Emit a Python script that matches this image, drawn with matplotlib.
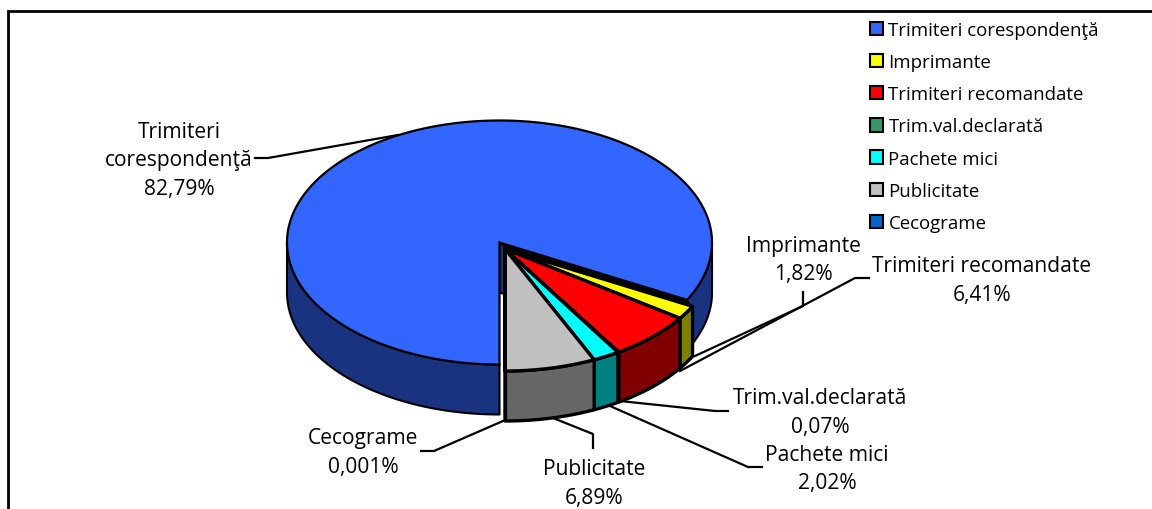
import numpy as np
import matplotlib
matplotlib.use("Agg")
import matplotlib.pyplot as plt
from matplotlib.patches import Polygon, Patch

categories = ["Trimiteri corespondenţă", "Imprimante", "Trimiteri recomandate",
              "Trim.val.declarată", "Pachete mici", "Publicitate", "Cecograme"]
values = [82.79, 1.82, 6.41, 0.07, 2.02, 6.89, 0.001]
value_labels = ["82,79%", "1,82%", "6,41%", "0,07%", "2,02%", "6,89%", "0,001%"]
top_colors = ["#3366FF", "#FFFF00", "#FF0000", "#339966", "#00FFFF", "#C0C0C0", "#0066CC"]
side_colors = ["#1A3380", "#808000", "#800000", "#1A4D33", "#008080", "#666666", "#003366"]

plt.rcParams["font.family"] = ["Open Sans", "DejaVu Sans"]
fig = plt.figure(figsize=(11.52, 5.10), dpi=100)
ax = fig.add_axes([0, 0, 1, 1])
ax.set_xlim(0, 1152)
ax.set_ylim(510, 0)
ax.axis("off")

# chart frame (open on the right and bottom as cropped)
ax.plot([8, 8, 1152], [510, 12, 12], color="black", lw=2, solid_joinstyle="miter", zorder=1)

RX, RY, DEPTH = 212.5, 122, 50
C_MAIN = (499.5, 243.5)
C_EXPL = (505, 250)

def pt(c, t):
    t = np.radians(t)
    return c[0] + RX * np.sin(t), c[1] - RY * np.cos(t)

def arc(c, a, b, n=120):
    x, y = pt(c, np.linspace(a, b, n))
    return np.column_stack([x, y])

pcts = np.array(values) / sum(values) * 360
edges = [180.0]
for p in pcts:
    edges.append(edges[-1] + p)

def wall(c, a, b, col, lw):
    ar = arc(c, a, b)
    low = ar + [0, DEPTH]
    ax.add_patch(Polygon(np.vstack([ar, low[::-1]]), closed=True, fc=col, ec="black", lw=lw,
                         joinstyle="round", zorder=3))

# main slice: cut face and side walls, then top
a0, a1 = edges[0], edges[1]
end_xy = np.array(pt(C_MAIN, a1))
ax.add_patch(Polygon([C_MAIN, end_xy, end_xy + [0, DEPTH], (C_MAIN[0], C_MAIN[1] + DEPTH)],
                     closed=True, fc=side_colors[0], ec="black", lw=1.5, zorder=3))
wall(C_MAIN, 90, a1 - 360, side_colors[0], 1.5)
wall(C_MAIN, a0, 270, side_colors[0], 1.5)
ax.add_patch(Polygon(np.vstack([[C_MAIN], arc(C_MAIN, a0, a1, 400)]), closed=True, fc=top_colors[0],
                     ec="black", lw=1.6, joinstyle="miter", zorder=4))
# dark band between the main slice and the exploded slices
ax.add_patch(Polygon([C_MAIN, end_xy, pt(C_EXPL, a1), C_EXPL], closed=True, fc="black", ec="none", zorder=4.5))

# exploded slices, back to front
for i in range(1, 7):
    a, b = edges[i] - 360, edges[i + 1] - 360
    wall(C_EXPL, a, b, side_colors[i], 2.4)
for i in range(1, 7):
    a, b = edges[i] - 360, edges[i + 1] - 360
    ax.add_patch(Polygon(np.vstack([[C_EXPL], arc(C_EXPL, a, b)]), closed=True, fc=top_colors[i],
                         ec="black", lw=2.4, joinstyle="round", zorder=5))

# labels and leaders
label_pos = [(179, 161), (803, 260.5), (982, 281), (820, 413), (827, 469.5), (594, 484), (363, 453)]
leaders = [
    [(255, 159), (268, 159), (398, 136)],
    [(803, 293), (803, 307), (695, 357)],
    [(869, 279), (855, 279), (680, 372)],
    [(728, 412), (715, 412), (620, 402)],
    [(762, 468), (748, 468), (610, 407)],
    [(593, 449), (593, 435), (553, 419)],
    [(421, 452), (434, 452), (503, 422)],
]
labels = ["Trimiteri\ncorespondenţă", "Imprimante", "Trimiteri recomandate", "Trim.val.declarată",
          "Pachete mici", "Publicitate", "Cecograme"]
for name, val, pos, ld in zip(labels, value_labels, label_pos, leaders):
    xs, ys = zip(*ld)
    ax.plot(xs, ys, color="black", lw=1.6, zorder=2)
    ax.text(pos[0], pos[1], f"{name}\n{val}", ha="center", va="center", fontsize=15.1,
            linespacing=1.48, color="black", zorder=6)

handles = [Patch(fc=c, ec="black", lw=1.5) for c in top_colors]
ax.legend(handles, categories, loc="upper left", bbox_to_anchor=(870 / 1152, 1 - 22 / 510),
          frameon=False, fontsize=13.4, handlelength=0.72, handleheight=0.72, handletextpad=0.27,
          labelspacing=0.76, borderpad=0, borderaxespad=0)

fig.savefig("out.png", dpi=100)
